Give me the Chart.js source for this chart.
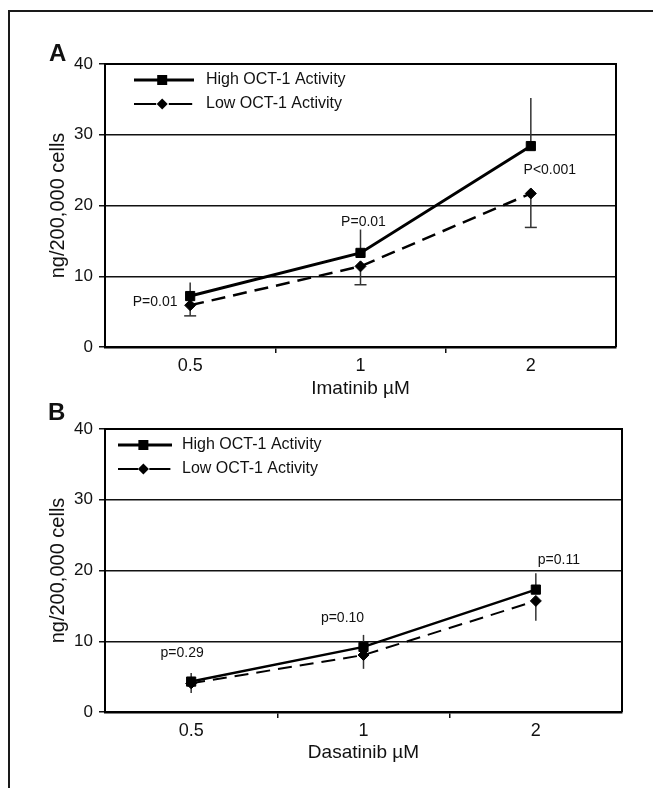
<!DOCTYPE html>
<html>
<head>
<meta charset="utf-8">
<script src="https://cdn.jsdelivr.net/npm/chart.js@4.4.1/dist/chart.umd.min.js"></script>
<style>
  body { margin: 0; background: #fff; width: 653px; height: 788px; overflow: hidden; position: relative; font-family: "Liberation Sans", Arial, sans-serif; }
  #frame { position: absolute; left: 8px; top: 10px; width: 700px; height: 800px; border: 2px solid #1a1a1a; }
  canvas { position: absolute; left: 0; }
  .letter { position: absolute; font-weight: bold; font-size: 24px; line-height: 1; color: #111; }
</style>
</head>
<body>
<div id="frame"></div>
<canvas id="chartA" width="653" height="400" style="top:0"></canvas>
<canvas id="chartB" width="653" height="388" style="top:400px"></canvas>
<div class="letter" style="left:49px;top:41px">A</div>
<div class="letter" style="left:48px;top:400px">B</div>
<script>
const categories = ['0.5', '1', '2'];
const yTicks = [0, 10, 20, 30, 40];

// panel A - imatinib
const highA = [7.2, 13.3, 28.4];
const lowA = [5.9, 11.4, 21.7];
const highErrA = [9.1, 16.6, 35.2];   // upper end of error bar
const lowErrA = [4.4, 8.8, 16.9];     // lower end of error bar
const pTextA = ['P=0.01', 'P=0.01', 'P<0.001'];
const pYA = [6.4, 17.6, 25];

// panel B - dasatinib
const highB = [4.3, 9.2, 17.3];
const lowB = [4.05, 8.05, 15.7];
const highErrB = [5.5, 10.9, 19.6];
const lowErrB = [2.7, 6.1, 12.9];
const pTextB = ['p=0.29', 'p=0.10', 'p=0.11'];
const pYB = [8.3, 13.3, 21.5];

const FONT = '"Liberation Sans", Arial, sans-serif';
Chart.defaults.font.family = FONT;
Chart.defaults.color = '#111';

const extras = {
  id: 'extras',
  beforeDatasetsDraw(chart, args, opts) {
    const { ctx, scales: { x, y } } = chart;
    ctx.save();
    ctx.strokeStyle = '#333';
    ctx.lineWidth = 1.5;
    opts.errors.forEach(e => {
      e.to.forEach((v, i) => {
        const px = x.getPixelForValue(i);
        const y0 = y.getPixelForValue(e.from[i]);
        const y1 = y.getPixelForValue(v);
        ctx.beginPath(); ctx.moveTo(px, y0); ctx.lineTo(px, y1); ctx.stroke();
        if (e.cap) {
          ctx.beginPath(); ctx.moveTo(px - e.cap, y1); ctx.lineTo(px + e.cap, y1); ctx.stroke();
        }
      });
    });
    ctx.restore();
  },
  afterDraw(chart, args, opts) {
    const { ctx, chartArea: a, scales: { x, y } } = chart;
    ctx.save();
    // top and right of the plot box
    ctx.strokeStyle = '#000';
    ctx.lineWidth = 2;
    ctx.beginPath();
    ctx.moveTo(a.left, a.top); ctx.lineTo(a.right, a.top); ctx.lineTo(a.right, a.bottom);
    ctx.stroke();

    // legend inside the plot
    const L = opts.legend;
    const lx = a.left + L.x;
    const y1 = a.top + 16, y2 = a.top + 40;
    ctx.fillStyle = '#000';
    ctx.lineWidth = 3;
    ctx.beginPath(); ctx.moveTo(lx, y1); ctx.lineTo(lx + L.len, y1); ctx.stroke();
    const sx = lx + L.len * 0.47;
    ctx.fillRect(sx - 5, y1 - 5, 10, 10);
    ctx.lineWidth = 2;
    ctx.beginPath();
    ctx.moveTo(lx, y2); ctx.lineTo(lx + L.len * 0.37, y2);
    ctx.moveTo(lx + L.len * 0.58, y2); ctx.lineTo(lx + L.len * 0.97, y2);
    ctx.stroke();
    ctx.beginPath();
    ctx.moveTo(sx, y2 - 5.5); ctx.lineTo(sx + 5.5, y2); ctx.lineTo(sx, y2 + 5.5); ctx.lineTo(sx - 5.5, y2);
    ctx.closePath(); ctx.fill();
    ctx.font = '16px ' + FONT;
    ctx.fillStyle = '#111';
    ctx.textBaseline = 'middle';
    ctx.textAlign = 'left';
    ctx.fillText(chart.data.datasets[0].label, lx + L.text, y1);
    ctx.fillText(chart.data.datasets[1].label, lx + L.text, y2);

    // p-values
    ctx.font = '14px ' + FONT;
    ctx.textAlign = 'center';
    opts.pText.forEach((t, i) => {
      ctx.fillText(t, x.getPixelForValue(i) + opts.pDx[i], y.getPixelForValue(opts.pY[i]));
    });
    ctx.restore();
  }
};

function makeChart(id, high, low, highErr, lowErr, o) {
  return new Chart(document.getElementById(id), {
    type: 'line',
    data: {
      labels: categories,
      datasets: [
        {
          label: 'High OCT-1 Activity',
          data: high,
          borderColor: '#000',
          backgroundColor: '#000',
          borderWidth: o.lw,
          pointStyle: 'rect',
          pointRadius: 6.5,
          pointBorderWidth: 1,
          pointBackgroundColor: '#000',
          fill: false,
          tension: 0
        },
        {
          label: 'Low OCT-1 Activity',
          data: low,
          borderColor: '#000',
          backgroundColor: '#000',
          borderWidth: o.lw - 0.5,
          borderDash: [14, 8],
          pointStyle: 'rectRot',
          pointRadius: 5.5,
          pointBorderWidth: 1,
          pointBackgroundColor: '#000',
          fill: false,
          tension: 0
        }
      ]
    },
    options: {
      responsive: false,
      animation: false,
      layout: { padding: { top: o.padTop, right: o.padRight, left: 0, bottom: 0 } },
      plugins: {
        legend: { display: false },
        tooltip: { enabled: false },
        extras: {
          errors: [
            { from: high, to: highErr, cap: 0 },
            { from: low, to: lowErr, cap: o.cap }
          ],
          legend: o.legend,
          pText: o.pText,
          pY: o.pY,
          pDx: o.pDx
        }
      },
      scales: {
        x: {
          offset: true,
          grid: {
            offset: true,
            drawOnChartArea: false,
            // no tick marks at the two ends of the axis
            color: c => (c.type !== 'tick' || c.index === 0) ? 'rgba(0,0,0,0)' : '#111',
            lineWidth: 1.5,
            tickLength: 6
          },
          border: { color: '#000', width: 2.5 },
          ticks: { font: { size: 18 }, color: '#111', padding: 2, maxRotation: 0 },
          title: { display: true, text: o.xTitle, font: { size: 19 }, color: '#111', padding: { top: 0, bottom: o.xTitlePad } },
          afterFit(s) { s.height = o.xHeight; }
        },
        y: {
          min: 0,
          max: 40,
          afterBuildTicks(s) { s.ticks = yTicks.map(v => ({ value: v })); },
          ticks: { font: { size: 17 }, color: '#111', padding: 6 },
          grid: { color: '#111', lineWidth: 1.5, tickLength: 6 },
          border: { color: '#000', width: 2 },
          title: { display: true, text: 'ng/200,000 cells', font: { size: 20 }, color: '#111', padding: { top: 46, bottom: 0 } },
          afterFit(s) { s.width = 105; }
        }
      }
    },
    plugins: [extras]
  });
}

makeChart('chartA', highA, lowA, highErrA, lowErrA, {
  lw: 3, cap: 6, padTop: 64, padRight: 37, xHeight: 53, xTitlePad: 0,
  xTitle: 'Imatinib µM',
  legend: { x: 29, len: 60, text: 72 },
  pText: pTextA, pY: pYA, pDx: [-35, 3, 19]
});

makeChart('chartB', highB, lowB, highErrB, lowErrB, {
  lw: 2.5, cap: 0, padTop: 29, padRight: 31, xHeight: 76, xTitlePad: 24,
  xTitle: 'Dasatinib µM',
  legend: { x: 13, len: 54, text: 64 },
  pText: pTextB, pY: pYB, pDx: [-9, -21, 23]
});
</script>
</body>
</html>
